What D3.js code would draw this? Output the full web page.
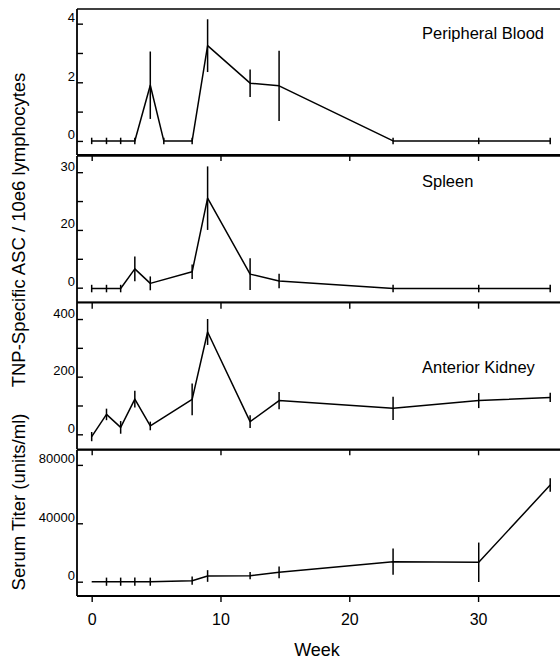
<!DOCTYPE html>
<html>
<head>
<meta charset="utf-8">
<script src="https://cdn.jsdelivr.net/npm/d3@7"></script>
<style>
  body { margin: 0; background: #fff; }
  svg { display: block; }
  text { font-family: "Liberation Sans", Arial, sans-serif; fill: #000; }
</style>
</head>
<body>
<div id="chart"></div>
<script>
// Sampling weeks (shared by all panels; null = not sampled)
const weeks = [0, 1.15, 2.25, 3.35, 4.55, 5.6, 7.8, 9.0, 12.3, 14.55, 23.4, 30.05, 35.6];

const bloodValues  = [0, 0, 0, 0, 1.9, 0, 0, 3.25, 1.97, 1.88, 0, 0, 0];
const bloodErrors  = [0.11, 0.11, 0.11, 0.11, 1.15, 0.11, 0.11, 0.9, 0.47, 1.2, 0.11, 0.11, 0.11];

const spleenValues = [-0.3, -0.3, -0.3, 6.5, 1.5, null, 5.5, 31, 4.7, 2.3, -0.3, -0.3, -0.3];
const spleenErrors = [1.3, 1.3, 1.3, 4.3, 2.4, null, 2.5, 11, 5.5, 2.5, 1.3, 1.3, 1.3];

const kidneyValues = [-8, 69, 24, 122, 29, null, 121, 355, 44, 117, 90, 117, 128];
const kidneyErrors = [16, 20, 22, 29, 15, null, 55, 45, 22, 30, 40, 26, 16];

const serumValues  = [0, 0, 0, 0, 0, null, 700, 3900, 4100, 6400, 13700, 13300, 66200];
const serumErrors  = [0, 2800, 2800, 2800, 2800, null, 2800, 4000, 2500, 4000, 9000, 13500, 4600];

// Axis ticks
const xTicks = [0, 10, 20, 30];
const bloodTicks  = [0, 1, 2, 3, 4];
const bloodLabels = ["0", "", "2", "", "4"];
const spleenTicks  = [0, 10, 20, 30, 40];
const spleenLabels = ["0", "", "20", "", "30"];
const kidneyTicks  = [0, 100, 200, 300, 400];
const kidneyLabels = ["0", "", "200", "", "400"];
const serumTicks  = [0, 40000, 80000];
const serumLabels = ["0", "40000", "80000"];

const titles = ["Peripheral Blood", "Spleen", "Anterior Kidney", ""];

const width = 560, height = 660;
const left = 77, right = 560;

const svg = d3.select("#chart")
    .append("svg")
    .attr("width", width)
    .attr("height", height);

const x = d3.scaleLinear()
    .domain([-1.14, 36.36])
    .range([left, right]);

// panel layout: pixel extent + value domain
const panels = [
    { top: 9,     bottom: 155,   domain: [-0.48, 4.5],   values: bloodValues,  errors: bloodErrors,  ticks: bloodTicks,  labels: bloodLabels,  titleY: 39 },
    { top: 156,   bottom: 302.7, domain: [-5.2, 45.6],   values: spleenValues, errors: spleenErrors, ticks: spleenTicks, labels: spleenLabels, titleY: 187 },
    { top: 302.3, bottom: 449.3, domain: [-52, 458],     values: kidneyValues, errors: kidneyErrors, ticks: kidneyTicks, labels: kidneyLabels, titleY: 373 },
    { top: 450,   bottom: 596,   domain: [-9800, 90200], values: serumValues,  errors: serumErrors,  ticks: serumTicks,  labels: serumLabels,  titleY: 0 }
];

panels.forEach((p, k) => {
    const y = d3.scaleLinear()
        .domain(p.domain)
        .range([p.bottom, p.top]);

    const g = svg.append("g");

    // top border
    g.append("line")
        .attr("x1", left).attr("x2", right)
        .attr("y1", p.top).attr("y2", p.top)
        .attr("stroke", "#000").attr("stroke-width", 1.6);

    // y axis (ticks inward)
    const yAxis = g.append("g")
        .attr("transform", `translate(${left},0)`)
        .call(d3.axisRight(y)
            .tickValues(p.ticks)
            .tickSize(6)
            .tickFormat(() => ""));
    yAxis.select(".domain")
        .attr("d", `M0,${p.top}V${p.bottom}`)
        .attr("stroke-width", 1.8);
    yAxis.selectAll(".tick line").attr("stroke-width", 1.4);

    g.selectAll("text.ylab")
        .data(p.ticks)
        .join("text")
        .attr("class", "ylab")
        .attr("x", left - 2)
        .attr("y", d => y(d) - 6)
        .attr("dy", "0.35em")
        .attr("text-anchor", "end")
        .attr("font-size", 13)
        .text((d, i) => p.labels[i]);

    // x axis at panel bottom (ticks outward)
    const xAxis = g.append("g")
        .attr("transform", `translate(0,${p.bottom})`)
        .call(d3.axisBottom(x)
            .tickValues(xTicks)
            .tickSize(6)
            .tickSizeOuter(0)
            .tickFormat(k === panels.length - 1 ? d3.format("d") : () => ""));
    xAxis.select(".domain")
        .attr("d", `M${left},0H${right}`)
        .attr("stroke-width", 1.8);
    xAxis.selectAll(".tick line").attr("stroke-width", 1.4);
    xAxis.selectAll(".tick text")
        .attr("font-size", 16)
        .attr("dy", "1.1em")
        .attr("y", 11)
        .style("font-family", '"Liberation Sans", Arial, sans-serif');

    // data
    const pts = weeks.map((w, i) => ({ w, v: p.values[i], e: p.errors[i] }))
        .filter(d => d.v !== null);

    g.selectAll("line.err")
        .data(pts.filter(d => d.e > 0))
        .join("line")
        .attr("class", "err")
        .attr("x1", d => x(d.w)).attr("x2", d => x(d.w))
        .attr("y1", d => y(d.v - d.e))
        .attr("y2", d => y(d.v + d.e))
        .attr("stroke", "#000")
        .attr("stroke-width", 1.5);

    g.append("path")
        .datum(pts)
        .attr("fill", "none")
        .attr("stroke", "#000")
        .attr("stroke-width", 1.5)
        .attr("stroke-linejoin", "round")
        .attr("d", d3.line().x(d => x(d.w)).y(d => y(d.v)));

    if (titles[k]) {
        g.append("text")
            .attr("x", 422)
            .attr("y", p.titleY)
            .attr("font-size", 16.5)
            .text(titles[k]);
    }
});

// axis titles
svg.append("text")
    .attr("transform", "translate(25,230) rotate(-90)")
    .attr("text-anchor", "middle")
    .attr("font-size", 18.5)
    .text("TNP-Specific ASC / 10e6 lymphocytes");

svg.append("text")
    .attr("transform", "translate(25,502) rotate(-90)")
    .attr("text-anchor", "middle")
    .attr("font-size", 18.5)
    .text("Serum Titer (units/ml)");

svg.append("text")
    .attr("x", 317)
    .attr("y", 656)
    .attr("text-anchor", "middle")
    .attr("font-size", 18)
    .text("Week");
</script>
</body>
</html>
